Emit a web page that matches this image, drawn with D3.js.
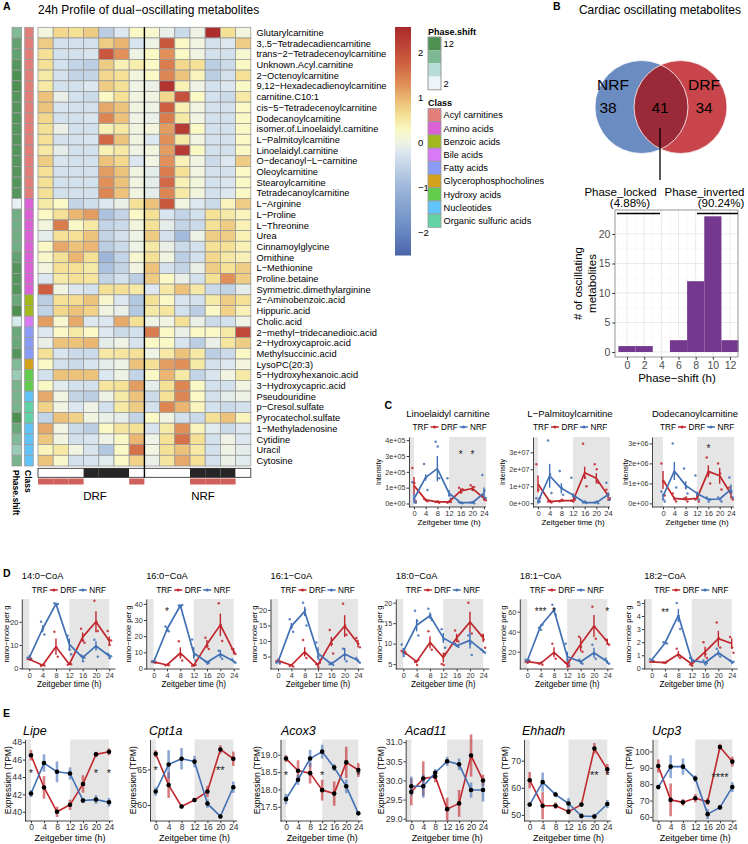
<!DOCTYPE html>
<html><head><meta charset="utf-8">
<script src="https://cdn.jsdelivr.net/npm/d3@7"></script>
<style>
body{margin:0;background:#fff;}
svg text{font-family:"Liberation Sans",Arial,Helvetica,sans-serif;}
</style></head><body>
<svg id="chart" width="748" height="844"></svg>
<script>
// ================= DATA =================
const metaboliteNames = ["Glutarylcarnitine","3,.5−Tetradecadiencarnitine","trans−2−Tetradecenoylcarnitine","Unknown.Acyl.carnitine","2−Octenoylcarnitine","9,12−Hexadecadienoylcarnitine","carnitine.C10:1","cis−5−Tetradecenoylcarnitine","Dodecanoylcarnitine","isomer.of.Linoelaidyl.carnitine","L−Palmitoylcarnitine","Linoelaidyl.carnitine","O−decanoyl−L−carnitine","Oleoylcarnitine","Stearoylcarnitine","Tetradecanoylcarnitine","L−Arginine","L−Proline","L−Threonine","Urea","Cinnamoylglycine","Ornithine","L−Methionine","Proline.betaine","Symmetric.dimethylarginine","2−Aminobenzoic.acid","Hippuric.acid","Cholic.acid","2−methyl−tridecanedioic.acid","2−Hydroxycaproic.acid","Methylsuccinic.acid","LysoPC(20:3)","5−Hydroxyhexanoic.acid","3−Hydroxycapric.acid","Pseudouridine","p−Cresol.sulfate","Pyrocatechol.sulfate","1−Methyladenosine","Cytidine","Uracil","Cytosine"];
const classLevels = ["Acyl carnitines","Amino acids","Benzoic acids","Bile acids","Fatty acids","Glycerophosphocholines","Hydroxy acids","Nucleotides","Organic sulfuric acids"];
const classColors = ["#E27F7A","#DB62D6","#A3B81E","#D87AF5","#8A9CF7","#D4A11C","#62CC4D","#62C3F8","#62D3A7"];
const metaboliteClass = ["Acyl carnitines","Acyl carnitines","Acyl carnitines","Acyl carnitines","Acyl carnitines","Acyl carnitines","Acyl carnitines","Acyl carnitines","Acyl carnitines","Acyl carnitines","Acyl carnitines","Acyl carnitines","Acyl carnitines","Acyl carnitines","Acyl carnitines","Acyl carnitines",
 "Amino acids","Amino acids","Amino acids","Amino acids","Amino acids","Amino acids","Amino acids","Amino acids","Amino acids",
 "Benzoic acids","Benzoic acids","Bile acids","Fatty acids","Fatty acids","Fatty acids","Glycerophosphocholines","Hydroxy acids","Hydroxy acids","Nucleotides","Organic sulfuric acids","Organic sulfuric acids","Nucleotides","Nucleotides","Nucleotides","Nucleotides"];
const phaseShift = [8.5,10.5,10.5,11.5,12,12,11.5,11.5,11.5,11.5,11.5,11.5,11.5,11.5,11.5,11.5,2.5,9.5,9.5,9.5,9.5,10.5,11.5,11.5,11.5,10,12,3.5,10,10,11.5,8.5,7,9,9,9,12,10,8.5,7,9];
const sampleGroups = ["DRF","NRF"];
const lightDark = ["L","L","L","D","D","D","L","L","L","L","D","D","D","L"];
const feedingBar = [1,1,1,0,0,0,1,0,0,0,1,1,1,0];
const heatValues = [
[0.1,0.7,0.6,0.8,-0.6,-0.2,0.3, 0.2,-0.05,-0.4,0.0,2.5,0.6,0.1],
[0.8,-0.3,-0.3,-0.3,0.8,1.0,-0.25, 0.0,1.9,0.3,0.05,-0.3,-0.2,0.8],
[0.6,-0.3,-0.3,-0.25,1.9,1.3,0.0, 0.3,1.3,0.3,0.05,-0.3,-0.3,0.2],
[0.6,-0.3,-0.5,-0.6,0.8,0.4,0.45, 0.3,1.5,0.7,0.6,-0.6,-0.4,0.3],
[0.5,-0.3,-0.5,-0.5,0.7,0.6,0.1, 0.3,1.4,0.9,0.35,-0.6,-0.3,0.6],
[0.5,-0.3,-0.3,-0.2,0.8,0.6,0.0, -0.05,2.4,0.4,0.0,-0.3,-0.2,0.3],
[0.9,-0.05,-0.3,-0.4,0.3,0.6,0.05, 0.05,0.7,2.0,0.3,-0.3,-0.4,0.5],
[0.9,-0.25,-0.3,-0.3,1.1,0.9,0.05, 0.0,1.8,0.4,0.05,-0.3,-0.3,0.3],
[0.7,-0.3,-0.3,-0.25,1.4,0.9,0.0, -0.05,1.5,0.5,0.05,-0.3,-0.3,0.3],
[0.6,-0.05,-0.3,-0.3,0.4,0.5,0.05, 0.1,1.2,2.3,0.3,-0.3,-0.3,0.3],
[0.6,-0.3,-0.3,-0.25,1.7,0.9,0.05, -0.2,1.3,0.5,0.05,-0.3,-0.3,0.3],
[0.5,-0.1,-0.3,-0.3,0.4,0.5,0.0, 0.1,1.2,2.3,0.3,-0.3,-0.3,0.3],
[0.8,-0.25,-0.3,-0.3,0.9,0.7,-0.2, 0.05,1.3,0.4,0.05,-0.4,-0.2,0.8],
[0.6,-0.3,-0.3,-0.3,1.2,0.9,0.05, -0.1,1.5,0.6,0.05,-0.3,-0.3,0.3],
[0.6,-0.3,-0.3,-0.3,1.3,0.9,0.05, -0.1,1.7,0.4,0.1,-0.3,-0.25,0.3],
[0.6,-0.3,-0.3,-0.3,1.4,0.9,0.05, -0.1,1.4,0.5,0.1,-0.3,-0.2,0.3],
[0.5,0.3,-0.5,-0.35,-0.2,-0.05,0.6, 0.9,1.9,0.05,-0.2,-0.4,0.35,0.8],
[0.3,0.6,1.0,1.2,-0.8,-0.5,0.3, 0.6,-0.25,-0.5,-0.3,0.6,0.5,0.35],
[0.1,1.5,0.3,0.5,-0.5,-0.4,0.1, 0.6,-0.1,-0.5,-0.4,0.6,0.8,0.4],
[-0.1,0.6,0.6,0.9,-0.5,-0.3,0.0, 0.8,-0.3,-0.9,0.0,0.8,0.8,0.4],
[0.3,1.1,0.9,1.0,-0.6,-0.4,0.0, 0.5,-0.05,-0.4,-0.3,0.6,0.6,0.4],
[0.25,0.6,1.0,0.6,-1.0,-0.5,0.2, 0.6,0.05,-0.6,-0.3,0.7,0.5,0.4],
[0.1,0.6,0.6,0.5,-0.8,-0.5,0.05, 0.9,-0.3,-0.5,-0.05,0.8,0.6,0.8],
[-0.2,0.5,0.6,0.55,-0.5,-0.3,-0.6, 0.8,0.3,-0.05,-0.3,0.6,1.3,0.8],
[1.8,0.05,-0.2,-0.3,0.6,0.6,0.5, -0.2,0.5,0.9,0.5,-0.4,-0.5,-0.1],
[-0.6,0.6,0.65,0.9,0.2,-0.2,-0.7, 0.6,0.3,-0.25,-0.3,0.5,0.8,0.6],
[-0.5,0.7,0.9,0.75,0.05,-0.05,-0.7, 0.5,0.55,-0.3,-0.6,0.3,0.75,0.4],
[1.2,0.2,1.1,-0.2,-0.2,1.1,0.6, 0.0,0.05,0.6,-0.05,-0.4,-0.3,0.0],
[-0.2,0.3,0.5,0.3,-0.2,-0.4,-0.3, 1.5,0.3,-0.05,0.3,0.3,0.5,2.1],
[-0.05,0.9,0.9,1.0,-0.1,0.0,-0.25, 0.3,0.3,-0.25,-0.6,-0.05,0.55,0.8],
[0.6,-0.25,-0.4,-0.4,0.5,0.55,0.6, 0.0,0.5,0.9,0.5,-0.6,-0.4,0.3],
[0.3,-0.3,-0.4,-0.25,-0.1,0.0,0.9, 0.6,1.2,1.3,0.5,-0.3,-0.2,0.1],
[-0.3,0.9,0.9,0.9,-0.2,0.0,-0.5, 0.3,1.0,0.5,-0.5,-0.25,0.05,0.5],
[0.3,-0.15,-0.3,-0.3,0.55,0.6,1.2, -0.1,0.6,1.4,0.3,-0.3,-0.3,0.05],
[1.1,0.05,-0.5,-0.6,0.0,0.5,0.9, -0.4,0.6,1.4,0.3,-0.3,-0.1,0.0],
[0.75,0.05,-0.2,0.0,-0.3,0.5,0.8, -0.3,1.4,1.0,0.35,-0.3,-0.4,-0.3],
[-0.5,0.9,0.75,0.05,-0.05,-0.1,-0.5, 0.3,0.05,-0.3,-0.4,0.6,0.9,0.35],
[1.1,0.05,-0.4,-0.6,0.3,0.55,0.6, -0.25,0.5,1.3,0.35,-0.15,-0.4,-0.2],
[0.85,0.05,-0.3,-0.25,0.0,0.3,1.0, 0.0,0.6,1.6,0.6,-0.3,0.0,-0.2],
[0.35,0.5,0.05,-0.25,-0.7,0.3,1.6, 0.05,0.6,0.9,0.5,-0.3,0.0,-0.1],
[0.9,0.25,-0.3,-0.25,-0.15,0.3,0.75, -0.05,0.55,1.1,0.6,-0.3,-0.05,-0.15]
];
const colorbarTicks = [-2,-1,0,1,2];

// Panel B
const vennNames = ["NRF","DRF"];
const vennOnly = [38, 34];
const vennShared = 41;
const phaseBins = [0,2,4,6,8,10,12];
const phaseCounts = [1,1,0,2,12,23,2];
const histYTicks = [0,5,10,15,20];

// Time
const timePoints = [0,4,8,12,16,20,24];

// Panel C (values in units of the axis exponent)
const linoDRF = [1.13,0.23,0.10,0.10,0.80,0.95,0.32];
const linoDRFerr = [0.55,0.08,0.04,0.05,0.15,0.15,0.12];
const linoNRF = [0.30,1.65,2.20,0.66,0.05,0.05,0.66];
const linoNRFerr = [0.3,0.2,0.8,0.2,0.03,0.03,0.35];
const linoDRFpts = [[2.25,1.3,0.15],[0.3,0.2,0.15],[0.1,0.15,0.05],[0.05,0.15,0.1],[1.0,0.7,0.9],[1.15,0.85,1.05],[0.5,0.25,0.2]];
const linoNRFpts = [[1.35,0.25,0.05],[2.5,1.65,0.85],[3.9,3.6,1.6],[1.6,0.5,0.3],[0.08,0.05,0.02],[0.06,0.1,0.02],[1.8,0.8,0.35]];
const linoTicks = [0,1,2,3,4];
const linoTickLabels = ["0e+00","1e+05","2e+05","3e+05","4e+05"];

const palmDRF = [1.13,0.10,0.15,0.15,1.80,1.47,0.45];
const palmDRFerr = [0.5,0.05,0.05,0.05,0.35,0.3,0.15];
const palmNRF = [0.10,1.62,0.88,0.49,0.04,0.04,0.50];
const palmNRFerr = [0.08,0.7,0.3,0.1,0.02,0.02,0.15];
const palmDRFpts = [[2.3,0.8,0.3],[0.1,0.15,0.05],[0.1,0.2,0.15],[0.15,0.1,0.2],[3.5,1.5,1.0],[2.3,2.0,1.2],[0.8,0.2,0.3]];
const palmNRFpts = [[0.3,0.05,0.1],[3.7,1.7,0.6],[1.9,0.9,0.5],[1.5,0.4,0.3],[0.05,0.1,0.02],[0.05,0.1,0.0],[1.2,0.5,0.2]];
const palmTicks = [0,1,2,3];
const palmTickLabels = ["0e+00","1e+07","2e+07","3e+07"];

const dodeDRF = [1.17,0.25,0.20,0.25,1.60,1.38,0.47];
const dodeDRFerr = [0.45,0.08,0.05,0.06,0.3,0.4,0.15];
const dodeNRF = [0.35,1.62,0.90,0.50,0.20,0.22,0.70];
const dodeNRFerr = [0.15,0.45,0.2,0.1,0.05,0.05,0.25];
const dodeDRFpts = [[2.0,1.1,0.4],[0.5,0.2,0.1],[0.25,0.3,0.1],[0.2,0.35,0.1],[2.3,1.5,1.0],[2.0,1.5,0.7],[0.8,0.3,0.2]];
const dodeNRFpts = [[0.6,0.2,0.1],[3.0,1.5,0.8],[1.75,0.8,0.5],[1.4,0.4,0.2],[0.3,0.1,0.2],[0.3,0.2,0.1],[1.3,0.6,0.3]];
const dodeTicks = [0,1,2,3];
const dodeTickLabels = ["0e+00","1e+06","2e+06","3e+06"];

// Panel D (nano-mole per g)
const c140DRF = [3.9,1.3,9.3,1.7,13.4,20.0,11.7];
const c140DRFerr = [0.3,0.3,3.5,0.3,2.0,4.5,2.0];
const c140NRF = [4.6,17.0,27.7,10.3,4.6,9.6,5.3];
const c140NRFerr = [0.6,1.5,0.5,2.5,1.0,2.0,0.8];
const c140DRFpts = [[4,3.8,4.2],[1,1.5,1.2],[15.7,9,5],[1.5,2,1.7],[17,12,11],[29,20,16],[16,10,12]];
const c140NRFpts = [[4.5,5.3,3.8],[20,17,14.5],[28,27.5,27.7],[14,8,6],[5.5,3,4.5],[12.3,9,5],[6.3,4.3,5.2]];

const c160DRF = [4.1,2.2,9.6,1.8,15.1,27.0,10.6];
const c160DRFerr = [0.4,0.3,3.5,0.3,2.5,7.0,2.0];
const c160NRF = [4.1,24.3,39.0,9.6,3.9,9.0,4.5];
const c160NRFerr = [0.4,1.5,0.5,3.5,0.6,2.5,0.6];
const c160DRFpts = [[4,4.5,3.5],[2,2.5,2],[16.8,8,5],[1.5,2,2.2],[19,14,12],[40.3,27,17],[12,10,9]];
const c160NRFpts = [[4.5,3.8,4],[26,24,23],[39,38.5,39.3],[18,8,5],[4.5,3,3.5],[11,8,6],[5.5,4,3.5]];

const c161DRF = [3.7,2.2,6.5,2.3,9.8,14.8,9.2];
const c161DRFerr = [0.3,0.3,1.5,0.5,1.5,3.5,1.2];
const c161NRF = [3.3,14.8,19.5,6.0,2.6,5.8,3.7];
const c161NRFerr = [0.3,1.0,1.5,2.0,0.3,2.0,0.5];
const c161DRFpts = [[3.5,4,3.2],[2,2.3,1.8],[10.3,6,4.5],[2.5,1.5,3],[13.5,9,6],[22,15,12],[11,9,8]];
const c161NRFpts = [[3,3.7,2.8],[17,14.5,13],[22.3,20,15],[9.5,5,4],[2.5,3,2.3],[7.5,5.5,3.5],[4.5,3.5,3]];

const c180DRF = [8.1,5.6,10.3,6.6,11.4,15.3,11.4];
const c180DRFerr = [0.3,0.4,1.5,1.2,1.0,2.5,1.0];
const c180NRF = [8.1,14.5,16.8,11.4,9.5,10.8,8.1];
const c180NRFerr = [0.8,1.5,0.8,1.2,0.3,2.0,0.3];
const c180DRFpts = [[8.2,7.8,8],[5.5,4.8,6],[13,10,8.5],[5,4.8,7.5],[13.2,11,10.5],[20,15,12.5],[12,11,9]];
const c180NRFpts = [[9.8,7,7.5],[18,15.5,12],[18.5,17,15.8],[13.5,11,9],[10,9.5,9.2],[12,10,7.2],[8.5,8,7.8]];

const c181DRF = [10,8.4,19.4,7.4,27.4,45.7,30];
const c181DRFerr = [1,1,5,2,7,11,3];
const c181NRF = [11,45.7,61.7,15,10,19,10];
const c181NRFerr = [1,1.5,2.5,5,1.5,5,1.5];
const c181DRFpts = [[10,9,11],[8,9,7],[28,18,13],[9,5,6],[35,25,20],[65,45,33],[32,28,27]];
const c181NRFpts = [[12,10,11],[44,42,47],[67,62,57],[28,12,8],[12,9,8],[27,18,13],[13,9,8]];

const c182DRF = [0.5,0.43,1.08,0.33,1.26,2.27,1.9];
const c182DRFerr = [0.03,0.04,0.25,0.1,0.4,0.6,0.4];
const c182NRF = [0.63,1.94,4.04,0.63,0.43,1.19,0.5];
const c182NRFerr = [0.05,0.03,0.5,0.2,0.1,0.2,0.08];
const c182DRFpts = [[0.5,0.5,0.55],[0.45,0.4,0.5],[1.5,1,0.8],[0.3,0.2,0.5],[2,1.1,0.8],[3.5,2.3,1.6],[2.4,1.6,1.2]];
const c182NRFpts = [[0.7,0.6,0.55],[2,1.95,1.9],[5,4,3],[0.8,0.6,0.5],[0.6,0.3,0.4],[1.5,1.1,0.9],[0.6,0.4,0.5]];

// Panel E (TPM)
const lipeDRF = [46.5,42.8,40.0,40.8,43.2,46.6,46.9];
const lipeDRFerr = [0.6,1.3,0.6,0.6,1.0,0.3,0.4];
const lipeNRF = [42.1,45.6,44.6,44.4,41.3,41.4,41.1];
const lipeNRFerr = [0.4,1.0,1.2,0.7,0.3,0.5,0.5];
const cpt1aDRF = [67.2,62.8,59.8,60.7,61.9,67.8,66.5];
const cpt1aDRFerr = [0.5,1.8,0.3,0.3,0.8,0.6,1.0];
const cpt1aNRF = [61.9,65.7,66.5,66.1,60.2,58.4,62.5];
const cpt1aNRFerr = [0.6,2.0,1.5,0.8,0.6,0.3,0.8];
const acox3DRF = [18.89,18.54,18.47,17.98,17.88,18.78,18.56];
const acox3DRFerr = [0.1,0.3,0.3,0.3,0.35,0.45,0.2];
const acox3NRF = [17.72,18.28,18.89,19.09,18.63,18.09,17.31];
const acox3NRFerr = [0.15,0.15,0.25,0.2,0.1,0.2,0.05];
const acad11DRF = [29.7,30.05,30.1,29.25,29.4,30.65,30.0];
const acad11DRFerr = [0.35,0.45,0.15,0.3,0.35,0.55,0.15];
const acad11NRF = [29.85,29.85,30.2,30.5,30.42,29.75,29.75];
const acad11NRFerr = [0.25,0.3,0.1,0.12,0.15,0.2,0.3];
const ehhadhDRF = [62.8,53.4,53.4,51.2,53.8,74.5,66.8];
const ehhadhDRFerr = [3,5,1.2,1,0.5,2,2];
const ehhadhNRF = [53.8,62.1,57.5,54.2,49.6,49.4,54.0];
const ehhadhNRFerr = [0.5,3.5,1,2,1,1,1.5];
const ucp3DRF = [91.1,70.4,68.9,71.4,69.3,102.7,93.8];
const ucp3DRFerr = [4,10,2,2.5,2,2,3];
const ucp3NRF = [78.2,90.7,90.7,83.4,61.7,65.8,78.2];
const ucp3NRFerr = [1,7,5,2,3,1.5,3];

// ================= DRAWING =================
const FONT = '"Liberation Sans",Arial,Helvetica,sans-serif';
const RED = "#C0272D", BLUE = "#4170B5";
const svg = d3.select("#chart");
svg.append("rect").attr("width",748).attr("height",844).attr("fill","#fff");
const defs = svg.append("defs");

function label(t, x, y, size, opts={}) {
  const el = svg.append("text").attr("x",x).attr("y",y).attr("font-size",size).attr("fill",opts.fill||"#000").text(t);
  if (opts.bold) el.attr("font-weight","bold");
  if (opts.anchor) el.attr("text-anchor",opts.anchor);
  if (opts.italic) el.attr("font-style","italic");
  return el;
}

// ---------- Panel A heatmap ----------
const heatColor = d3.scaleLinear()
  .domain([-2.5,-1.8,-1.0,-0.5,-0.2,0.0,0.3,0.6,0.9,1.3,1.8,2.6])
  .range(["#4A64AA","#7090C6","#9DB6D9","#C2D4E6","#DCE7EF","#EEF3E6","#FAF8C4","#F4E196","#EDC27A","#E09058","#CE5E40","#A8262A"])
  .clamp(true);
const phaseColor = d3.scaleLinear().domain([2,5.3,8.7,12]).range(["#EDF5FA","#B8DCD8","#7DB894","#4E8F52"]).clamp(true);
const classColor = d3.scaleOrdinal().domain(classLevels).range(classColors);

const nCols = 14;
const xCol = d3.scaleBand().domain(d3.range(nCols)).range([38, 38 + nCols*15.2]);
const yRow = d3.scaleBand().domain(metaboliteNames).range([27.3, 27.3 + metaboliteNames.length*10.7]);
const cw = xCol.bandwidth(), ch = yRow.bandwidth();
const gridStroke = "#9a9a9a";

label("A", 3, 9.5, 10.5, {bold:true});
label("24h Profile of dual−oscillating metabolites", 38, 13.5, 12);

const hm = svg.append("g");
metaboliteNames.forEach((name, r) => {
  hm.selectAll(null).data(heatValues[r]).enter().append("rect")
    .attr("x",(d,c)=>xCol(c)).attr("y",yRow(name)).attr("width",cw).attr("height",ch)
    .attr("fill",d=>heatColor(d)).attr("stroke",gridStroke).attr("stroke-width",0.8);
});
hm.selectAll(null).data(metaboliteNames).enter().append("rect")
  .attr("x",12).attr("y",d=>yRow(d)).attr("width",9.6).attr("height",ch)
  .attr("fill",(d,i)=>phaseColor(phaseShift[i])).attr("stroke",gridStroke).attr("stroke-width",0.8);
hm.selectAll(null).data(metaboliteNames).enter().append("rect")
  .attr("x",24.7).attr("y",d=>yRow(d)).attr("width",8.6).attr("height",ch)
  .attr("fill",(d,i)=>classColor(metaboliteClass[i])).attr("stroke",gridStroke).attr("stroke-width",0.8);
hm.selectAll(null).data(metaboliteNames).enter().append("text")
  .attr("x",256.5).attr("y",d=>yRow(d)+ch/2).attr("dy","0.35em").attr("font-size",9.3).text(d=>d);
const hmBottom = 27.3 + metaboliteNames.length*10.7;
hm.selectAll(null).data(lightDark).enter().append("rect")
  .attr("x",(d,c)=>xCol(c)).attr("y",hmBottom+2.3).attr("width",cw).attr("height",9)
  .attr("fill",d=>d==="D"?"#262626":"#fff");
sampleGroups.forEach((g,i)=>{
  hm.append("rect").attr("x",xCol(i*7)).attr("y",hmBottom+2.3).attr("width",cw*7).attr("height",9)
    .attr("fill","none").attr("stroke","#222").attr("stroke-width",0.8);
});
feedingBar.forEach((f,c)=>{
  if (f===1) hm.append("rect").attr("x",xCol(c)).attr("y",hmBottom+12.5).attr("width",cw).attr("height",6).attr("fill","#D0605E");
});
sampleGroups.forEach((g,i)=>{
  label(g, i===0?95:203, hmBottom+34, 11.5, {anchor:"middle"});
});
hm.append("line").attr("x1",xCol(7)).attr("x2",xCol(7)).attr("y1",27.3).attr("y2",hmBottom+11.3)
  .attr("stroke","#000").attr("stroke-width",1.4);
svg.append("text").attr("transform",`translate(12.5,${hmBottom+4}) rotate(90)`).attr("font-size",8.5).attr("font-weight","bold").text("Phase.shift");
svg.append("text").attr("transform",`translate(25.2,${hmBottom+4}) rotate(90)`).attr("font-size",8.5).attr("font-weight","bold").text("Class");

// colorbar
const cbY = d3.scaleLinear().domain([-2.5,2.58]).range([255.5,27]);
const grad = defs.append("linearGradient").attr("id","cbgrad").attr("x1",0).attr("y1",1).attr("x2",0).attr("y2",0);
d3.range(0,51).forEach(i=>{
  const v = -2.5 + i*(5.08/50);
  grad.append("stop").attr("offset",(i/50)).attr("stop-color",heatColor(v));
});
svg.append("rect").attr("x",395).attr("y",27).attr("width",16).attr("height",228.5).attr("fill","url(#cbgrad)");
svg.selectAll(null).data(colorbarTicks).enter().append("text")
  .attr("x",418).attr("y",d=>cbY(d)).attr("dy","0.35em").attr("font-size",9.5)
  .text(d=>d<0?"−"+Math.abs(d):String(d));

// phase legend
label("Phase.shift", 428, 34.5, 9, {bold:true});
const phaseLegendVals = [12, 8.7, 5.3, 2];
svg.selectAll(null).data(phaseLegendVals).enter().append("rect")
  .attr("x",428).attr("y",(d,i)=>37+i*13.2).attr("width",13).attr("height",13.2)
  .attr("fill",d=>phaseColor(d));
svg.append("rect").attr("x",428).attr("y",37).attr("width",13).attr("height",52.8).attr("fill","none").attr("stroke","#9a9a9a").attr("stroke-width",1);
label("12", 443.5, 47, 9.3);
label("2", 443.5, 86.5, 9.3);
// class legend
label("Class", 428, 106, 9, {bold:true});
svg.selectAll(null).data(classLevels).enter().append("rect")
  .attr("x",428).attr("y",(d,i)=>108.5+i*13.2).attr("width",13).attr("height",13.2)
  .attr("fill",d=>classColor(d)).attr("stroke","#9a9a9a").attr("stroke-width",0.8);
svg.selectAll(null).data(classLevels).enter().append("text")
  .attr("x",443.5).attr("y",(d,i)=>108.5+i*13.2+6.6).attr("dy","0.35em").attr("font-size",9.2).text(d=>d);

// ---------- Panel B ----------
label("B", 553, 9.5, 10.5, {bold:true});
label("Cardiac oscillating metabolites", 660, 13.5, 12, {anchor:"middle"});
const vennCx = d3.scaleOrdinal().domain(vennNames).range([641.5, 680.5]);
const vennFill = d3.scaleOrdinal().domain(vennNames).range(["#6B8CC0","#C8464B"]);
const vR = 46.5, vCy = 107;
defs.append("clipPath").attr("id","clipNRF").append("circle").attr("cx",vennCx("NRF")).attr("cy",vCy).attr("r",vR);
svg.selectAll(null).data(vennNames).enter().append("circle")
  .attr("cx",d=>vennCx(d)).attr("cy",vCy).attr("r",vR).attr("fill",d=>vennFill(d));
svg.append("circle").attr("cx",vennCx("DRF")).attr("cy",vCy).attr("r",vR).attr("fill","#9A2A37").attr("clip-path","url(#clipNRF)");
svg.selectAll(null).data(vennNames).enter().append("circle")
  .attr("cx",d=>vennCx(d)).attr("cy",vCy).attr("r",vR).attr("fill","none").attr("stroke","#fff").attr("stroke-width",0.8);
label("NRF", 613, 90, 15.5, {anchor:"middle"});
label("DRF", 704, 90, 15.5, {anchor:"middle"});
label(String(vennOnly[0]), 608, 113, 15.5, {anchor:"middle"});
label(String(vennShared), 660, 113, 15.5, {anchor:"middle"});
label(String(vennOnly[1]), 704, 113, 15.5, {anchor:"middle"});
svg.append("line").attr("x1",660).attr("x2",660).attr("y1",128).attr("y2",180).attr("stroke","#000").attr("stroke-width",1.3);

// histogram
const hx = d3.scaleLinear().domain([-1.4,12.93]).range([615,738]);
const hy = d3.scaleLinear().domain([-0.85,24.07]).range([357,210]);
const hg = svg.append("g");
d3.range(-1,14).forEach(v=>{
  if (hx(v) > 615 && hx(v) < 738) hg.append("line").attr("x1",hx(v)).attr("x2",hx(v)).attr("y1",210).attr("y2",357)
    .attr("stroke", v%2===0 ? "#E6E6E6" : "#F3F3F3").attr("stroke-width", v%2===0?0.9:0.5);
});
d3.range(0,25,2.5).forEach(v=>{
  hg.append("line").attr("x1",615).attr("x2",738).attr("y1",hy(v)).attr("y2",hy(v))
    .attr("stroke", v%5===0 ? "#E6E6E6" : "#F3F3F3").attr("stroke-width", v%5===0?0.9:0.5);
});
hg.selectAll(null).data(phaseBins).enter().append("rect")
  .attr("x",d=>hx(d-1)).attr("width",d=>hx(d+1)-hx(d-1))
  .attr("y",(d,i)=>hy(phaseCounts[i])).attr("height",(d,i)=>hy(0)-hy(phaseCounts[i]))
  .attr("fill","#74398E");
hg.append("rect").attr("x",615).attr("y",210).attr("width",123).attr("height",147).attr("fill","none").attr("stroke","#8a8a8a").attr("stroke-width",0.9);
const hya = hg.append("g").attr("transform","translate(615,0)").call(d3.axisLeft(hy).tickValues(histYTicks).tickSize(2.7).tickPadding(2));
hya.select(".domain").remove();
hya.attr("font-family",FONT).attr("font-size",10.5);
hya.selectAll("text").attr("fill","#4D4D4D");
hya.selectAll("line").attr("stroke","#333");
const hxa = hg.append("g").attr("transform","translate(0,357)").call(d3.axisBottom(hx).tickValues(phaseBins).tickSize(2.7).tickPadding(1.5));
hxa.select(".domain").remove();
hxa.attr("font-family",FONT).attr("font-size",10.5);
hxa.selectAll("text").attr("fill","#4D4D4D");
hxa.selectAll("line").attr("stroke","#333");
label("Phase−shift (h)", 677, 382, 11.5, {anchor:"middle"});
svg.append("text").attr("transform","translate(582,283.5) rotate(-90)").attr("text-anchor","middle").attr("font-size",11.5).text("# of oscillating");
svg.append("text").attr("transform","translate(596,283.5) rotate(-90)").attr("text-anchor","middle").attr("font-size",11.5).text("metabolites");
// phase group annotations (drawn on top)
label("Phase_locked", 620.5, 195.5, 11.5, {anchor:"middle"});
label("(4.88%)", 630, 207, 11.5, {anchor:"middle"});
label("Phase_inverted", 704.5, 195.5, 11.5, {anchor:"middle"});
label("(90.24%)", 721, 207, 11.5, {anchor:"middle"});
svg.append("line").attr("x1",617).attr("x2",660).attr("y1",213.5).attr("y2",213.5).attr("stroke","#000").attr("stroke-width",1.6);
svg.append("line").attr("x1",697).attr("x2",738).attr("y1",213.5).attr("y2",213.5).attr("stroke","#000").attr("stroke-width",1.6);

// ---------- generic time-course chart ----------
const jit = [-1.6, 0.4, 1.8];
function lineChart(p) {
  const g = svg.append("g");
  const x = d3.scaleLinear().domain([0,24]).range([p.x0, p.x24]);
  const y = d3.scaleLinear().domain(p.yDomain).range([p.bottom, p.top]);
  const shadeEnd = p.shadeToEdge ? p.right : x(24);
  g.append("rect").attr("x",p.left).attr("y",p.top).attr("width",Math.max(0,x(0)-p.left)).attr("height",p.bottom-p.top).attr("fill","#E5E5E5");
  g.append("rect").attr("x",x(12)).attr("y",p.top).attr("width",shadeEnd-x(12)).attr("height",p.bottom-p.top).attr("fill","#E5E5E5");
  const ya = g.append("g").attr("transform",`translate(${p.left},0)`)
    .call(d3.axisLeft(y).tickValues(p.yTicks).tickFormat((d,i)=>p.yLabels[i]).tickSize(p.tickSize).tickSizeOuter(0).tickPadding(p.tickPad));
  ya.attr("font-family",FONT).attr("font-size",p.yTickFont);
  ya.select(".domain").attr("stroke","#333").attr("stroke-width",0.9);
  ya.selectAll("line").attr("stroke","#333");
  ya.selectAll("text").attr("fill","#333");
  const xa = g.append("g").attr("transform",`translate(0,${p.bottom})`)
    .call(d3.axisBottom(x).tickValues(timePoints).tickSize(p.tickSize).tickSizeOuter(0).tickPadding(p.tickPad));
  xa.attr("font-family",FONT).attr("font-size",p.xTickFont);
  xa.select(".domain").remove();
  xa.selectAll("line").attr("stroke","#333");
  xa.selectAll("text").attr("fill","#333");
  g.append("line").attr("x1",p.left).attr("x2",p.right).attr("y1",p.bottom).attr("y2",p.bottom).attr("stroke","#333").attr("stroke-width",0.9);

  const series = [
    {vals:p.drf, err:p.drfErr, pts:p.drfPts, color:RED},
    {vals:p.nrf, err:p.nrfErr, pts:p.nrfPts, color:BLUE}
  ];
  const line = d3.line().x((d,i)=>x(timePoints[i])).y(d=>y(d));
  series.forEach(s=>{
    if (s.pts) {
      s.pts.forEach((reps,i)=>{
        g.selectAll(null).data(reps).enter().append("circle")
          .attr("cx",(d,k)=>x(timePoints[i])+jit[k%3]).attr("cy",d=>y(d)).attr("r",1.25)
          .attr("fill",s.color).attr("fill-opacity",0.85);
      });
    }
  });
  series.forEach(s=>{
    const eb = g.selectAll(null).data(s.vals).enter().append("line")
      .attr("x1",(d,i)=>x(timePoints[i])).attr("x2",(d,i)=>x(timePoints[i]))
      .attr("y1",(d,i)=>y(d - s.err[i])).attr("y2",(d,i)=>y(d + s.err[i]))
      .attr("stroke",s.color);
    if (p.style==="E") eb.attr("stroke-width",2.6).attr("stroke-opacity",0.6);
    else eb.attr("stroke-width",1.4);
    g.append("path").datum(s.vals).attr("d",line).attr("fill","none").attr("stroke",s.color)
      .attr("stroke-width",p.style==="E"?1.6:1.7).attr("stroke-linejoin","round");
  });
  if (p.style==="E") {
    series.forEach(s=>{
      g.selectAll(null).data(s.vals).enter().append("circle")
        .attr("cx",(d,i)=>x(timePoints[i])).attr("cy",d=>y(d)).attr("r",2.3).attr("fill","#000");
    });
  }
  (p.stars||[]).forEach(st=>{
    g.append("text").attr("x",x(st.t)).attr("y",y(st.v)+ (p.style==="E"?5:4)).attr("text-anchor","middle")
      .attr("font-size",p.style==="E"?11:10).attr("fill","#222").text(st.s);
  });
  if (p.style==="C") label(p.title, p.titleX, 416.5, 9.5, {anchor:"middle"});
  else if (p.style==="D") label(p.title, p.titleX, 579, 9.3);
  else label(p.title, p.titleX, 735, 12.5, {italic:true});
  if (p.legendX !== undefined) {
    const L = p.legendX, ly = p.legendY, fs = 8.2;
    label("TRF", L, ly, fs);
    [[RED,18,"DRF",28.5],[BLUE,47,"NRF",57.5]].forEach(([c,k,t,tx])=>{
      g.append("line").attr("x1",L+k).attr("x2",L+k+8).attr("y1",ly-3).attr("y2",ly-3).attr("stroke",c).attr("stroke-width",1.5);
      g.append("circle").attr("cx",L+k+4).attr("cy",ly-3).attr("r",1.5).attr("fill",c);
      label(t, L+tx, ly, fs);
    });
  }
  label("Zeitgeber time (h)", (p.x0+p.x24)/2, p.xTitleY, p.xTitleFont, {anchor:"middle"});
  svg.append("text").attr("transform",`translate(${p.yTitleX},${(p.top+p.bottom)/2}) rotate(-90)`)
    .attr("text-anchor","middle").attr("font-size",p.yTitleFont).text(p.yTitle);
}

// ---------- Panel C ----------
label("C", 384.5, 408.5, 10.5, {bold:true});
const cCommon = {style:"C", top:437, bottom:507, shadeToEdge:true, yTickFont:7.2, xTickFont:7.6, tickSize:2.3, tickPad:1.2, xTitleY:524.5, xTitleFont:8, yTitleFont:7, yTitle:"Intensity", legendY:430};
lineChart(Object.assign({}, cCommon, {title:"Linoelaidyl carnitine", titleX:448, legendX:412.5, left:409, right:486, x0:414, x24:484,
  yDomain:[-0.22,4.2], yTicks:linoTicks, yLabels:linoTickLabels, yTitleX:381,
  drf:linoDRF, drfErr:linoDRFerr, drfPts:linoDRFpts, nrf:linoNRF, nrfErr:linoNRFerr, nrfPts:linoNRFpts,
  stars:[{t:16,v:3.1,s:"*"},{t:20,v:3.1,s:"*"}]}));
lineChart(Object.assign({}, cCommon, {title:"L−Palmitoylcarnitine", titleX:570, legendX:533, left:533, right:610, x0:538, x24:608,
  yDomain:[-0.22,3.9], yTicks:palmTicks, yLabels:palmTickLabels, yTitleX:505,
  drf:palmDRF, drfErr:palmDRFerr, drfPts:palmDRFpts, nrf:palmNRF, nrfErr:palmNRFerr, nrfPts:palmNRFpts, stars:[]}));
lineChart(Object.assign({}, cCommon, {title:"Dodecanoylcarnitine", titleX:695, legendX:660, left:652, right:734, x0:663, x24:731,
  yDomain:[-0.18,3.32], yTicks:dodeTicks, yLabels:dodeTickLabels, yTitleX:628,
  drf:dodeDRF, drfErr:dodeDRFerr, drfPts:dodeDRFpts, nrf:dodeNRF, nrfErr:dodeNRFerr, nrfPts:dodeNRFpts,
  stars:[{t:16,v:2.75,s:"*"}]}));

// ---------- Panel D ----------
label("D", 3, 577, 10.5, {bold:true});
const dCommon = {style:"D", top:599, bottom:669, shadeToEdge:false, yTickFont:7.3, xTickFont:7.3, tickSize:2.3, tickPad:1.2, xTitleY:687, xTitleFont:8.2, yTitleFont:7.6, yTitle:"nano−mole per g", legendY:593};
const dX0 = [29.3,153.7,278,403.3,527.3,651.7];
const dTitles = ["14:0−CoA","16:0−CoA","16:1−CoA","18:0−CoA","18:1−CoA","18:2−CoA"];
const dYTitleX = [8.5,131,257,382,505.5,631];
const dSpecs = [
  {yDomain:[-0.3,29.8], yTicks:[0,10,20], drf:c140DRF, drfErr:c140DRFerr, drfPts:c140DRFpts, nrf:c140NRF, nrfErr:c140NRFerr, nrfPts:c140NRFpts, stars:[]},
  {yDomain:[-0.3,43], yTicks:[0,10,20,30,40], drf:c160DRF, drfErr:c160DRFerr, drfPts:c160DRFpts, nrf:c160NRF, nrfErr:c160NRFerr, nrfPts:c160NRFpts, stars:[{t:4,v:35.5,s:"*"}]},
  {yDomain:[1.0,23.5], yTicks:[5,10,15,20], drf:c161DRF, drfErr:c161DRFerr, drfPts:c161DRFpts, nrf:c161NRF, nrfErr:c161NRFerr, nrfPts:c161NRFpts, stars:[]},
  {yDomain:[3.8,20.9], yTicks:[5,10,15,20], drf:c180DRF, drfErr:c180DRFerr, drfPts:c180DRFpts, nrf:c180NRF, nrfErr:c180NRFerr, nrfPts:c180NRFpts, stars:[]},
  {yDomain:[2.7,72.7], yTicks:[20,40,60], drf:c181DRF, drfErr:c181DRFerr, drfPts:c181DRFpts, nrf:c181NRF, nrfErr:c181NRFerr, nrfPts:c181NRFpts, stars:[{t:4,v:60.5,s:"***"},{t:8,v:60.5,s:"*"},{t:24,v:60.5,s:"*"}]},
  {yDomain:[-0.05,5.3], yTicks:[0,1,2,3,4,5], drf:c182DRF, drfErr:c182DRFerr, drfPts:c182DRFpts, nrf:c182NRF, nrfErr:c182NRFerr, nrfPts:c182NRFpts, stars:[{t:4,v:4.3,s:"**"}]}
];
dSpecs.forEach((s,i)=>{
  lineChart(Object.assign({}, dCommon, s, {title:dTitles[i], titleX:dX0[i]-7.5, legendX:dX0[i]+2.5,
    left:dX0[i]-7.5, right:dX0[i]+86, x0:dX0[i], x24:dX0[i]+80, yLabels:s.yTicks.map(String), yTitleX:dYTitleX[i]}));
});

// ---------- Panel E ----------
label("E", 3, 717, 10.5, {bold:true});
const eCommon = {style:"E", top:739.5, bottom:821, shadeToEdge:false, yTickFont:8.7, xTickFont:8.5, tickSize:2.2, tickPad:0.8, xTitleY:840.5, xTitleFont:9, yTitleFont:8.5, yTitle:"Expression (TPM)"};
const eGenes = ["Lipe","Cpt1a","Acox3","Acad11","Ehhadh","Ucp3"];
const eX0 = [31,155.7,286,411.3,529.7,658.3];
const eX24 = [109,233.3,358.3,483,607.3,732.3];
const eLeft = [25,150,280.5,405.7,524,652.5];
const eTitleX = [23,149,281,405,522,652];
const eYTitleX = [10.5,135.5,260,384,507.8,632];
const eSpecs = [
  {yDomain:[38.94,48.31], yTicks:[40,42,44,46,48], yLabels:["40","42","44","46","48"], drf:lipeDRF, drfErr:lipeDRFerr, nrf:lipeNRF, nrfErr:lipeNRFerr, stars:[{t:0,v:44.6,s:"*"},{t:20,v:44.6,s:"*"},{t:24,v:44.6,s:"*"}]},
  {yDomain:[57.76,69.2], yTicks:[60,65], yLabels:["60","65"], drf:cpt1aDRF, drfErr:cpt1aDRFerr, nrf:cpt1aNRF, nrfErr:cpt1aNRFerr, stars:[{t:0,v:65,s:"*"},{t:20,v:65,s:"**"}]},
  {yDomain:[17.09,19.44], yTicks:[17.5,18,18.5,19], yLabels:["17.5","18.0","18.5","19.0"], drf:acox3DRF, drfErr:acox3DRFerr, nrf:acox3NRF, nrfErr:acox3NRFerr, stars:[{t:0,v:18.45,s:"*"},{t:12,v:18.45,s:"*"},{t:24,v:18.45,s:"*"}]},
  {yDomain:[28.94,31.07], yTicks:[29,29.5,30,30.5,31], yLabels:["29.0","29.5","30.0","30.5","31.0"], drf:acad11DRF, drfErr:acad11DRFerr, nrf:acad11NRF, nrfErr:acad11NRFerr, stars:[]},
  {yDomain:[47.75,77.8], yTicks:[50,60,70], yLabels:["50","60","70"], drf:ehhadhDRF, drfErr:ehhadhDRFerr, nrf:ehhadhNRF, nrfErr:ehhadhNRFerr, stars:[{t:20,v:65.2,s:"**"},{t:24,v:65,s:"*"}]},
  {yDomain:[57.5,107.3], yTicks:[60,70,80,90,100], yLabels:["60","70","80","90","100"], drf:ucp3DRF, drfErr:ucp3DRFerr, nrf:ucp3NRF, nrfErr:ucp3NRFerr, stars:[{t:20,v:84.9,s:"****"}]}
];
eSpecs.forEach((s,i)=>{
  lineChart(Object.assign({}, eCommon, s, {title:eGenes[i], titleX:eTitleX[i], left:eLeft[i], right:eX24[i]+4,
    x0:eX0[i], x24:eX24[i], yTitleX:eYTitleX[i]}));
});
</script></body></html>
